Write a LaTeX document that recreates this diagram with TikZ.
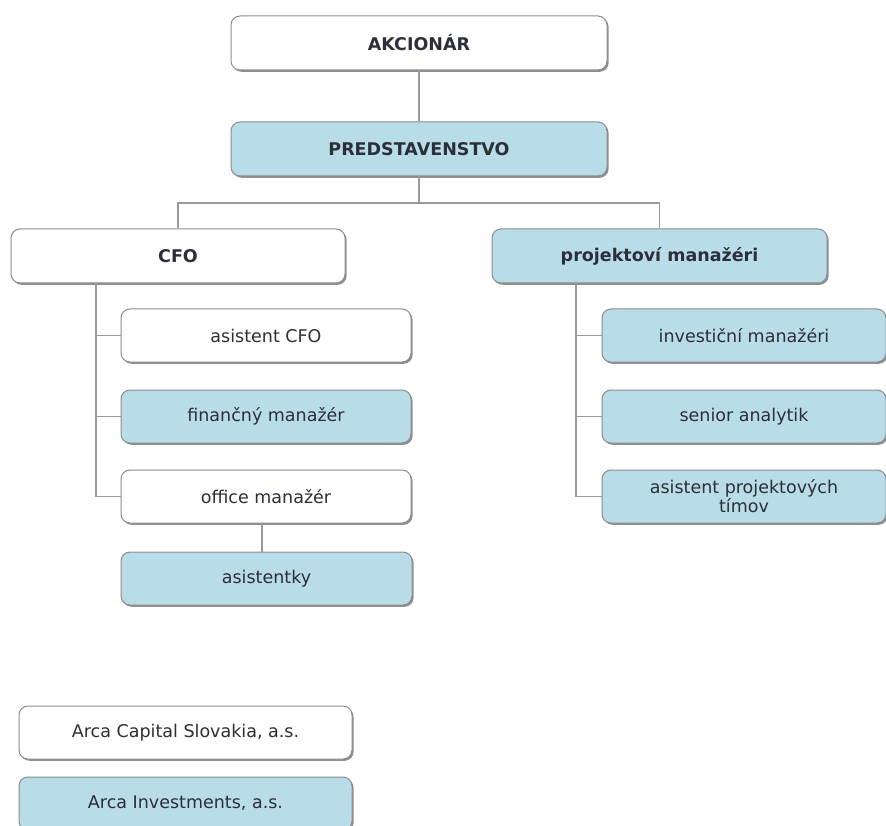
\documentclass[tikz,border=0pt]{standalone}
\usepackage{fontspec}
\setmainfont{DejaVu Sans}
\usetikzlibrary{shadows}
\definecolor{boxblue}{HTML}{B8DCE8}
\definecolor{boxline}{HTML}{8C8C8C}
\definecolor{txt}{HTML}{2B2F38}
\definecolor{conn}{HTML}{9A9A9A}
\tikzset{
  box/.style={draw=boxline, line width=1pt, rounded corners=9pt, fill=white,
    text=txt, font=\fontsize{17.5}{19}\selectfont, align=center, inner sep=0pt,
    drop shadow={shadow xshift=1.6pt, shadow yshift=-1.8pt, fill=black!55, opacity=0.8}},
  blue/.style={fill=boxblue},
  bold/.style={font=\fontsize{17.5}{19}\selectfont\bfseries},
  conn/.style={draw=conn, line width=1.4pt},
}
\begin{document}
\begin{tikzpicture}[x=1pt,y=-1pt]
\useasboundingbox (0,0) rectangle (886,826);
% top
\node[box,bold,minimum width=376pt,minimum height=54pt] (akc) at (419,43) {AKCIONÁR};
\node[box,bold,blue,minimum width=376pt,minimum height=54pt] (pred) at (419,149) {PREDSTAVENSTVO};
\node[box,bold,minimum width=334pt,minimum height=54pt] (cfo) at (178,256) {CFO};
\node[box,bold,blue,minimum width=335pt,minimum height=54pt] (proj) at (659.5,256) {projektoví manažéri};
% CFO branch
\node[box,minimum width=290pt,minimum height=53pt] (acfo) at (266,335.5) {asistent CFO};
\node[box,blue,minimum width=290pt,minimum height=53pt] (fin) at (266,416.5) {finančný manažér};
\node[box,minimum width=290pt,minimum height=53pt] (off) at (266,496.5) {office manažér};
\node[box,blue,minimum width=291pt,minimum height=53pt] (asis) at (266.5,578.5) {asistentky};
% projekt branch
\node[box,blue,minimum width=284pt,minimum height=53pt] (inv) at (744,335.5) {investiční manažéri};
\node[box,blue,minimum width=284pt,minimum height=53pt] (sen) at (744,416.5) {senior analytik};
\node[box,blue,minimum width=284pt,minimum height=53pt] (apt) at (744,496.5) {asistent projektových\\tímov};
% legend
\node[box,minimum width=333pt,minimum height=53pt] (lcs) at (185.5,732.5) {Arca Capital Slovakia, a.s.};
\node[box,blue,minimum width=333pt,minimum height=53pt] (lai) at (185.5,803.5) {Arca Investments, a.s.};
% connectors
\coordinate (bus) at (419,203);
\coordinate (cfoT) at (96,283);
\coordinate (projT) at (576,283);
\draw[conn] (akc.south) -- (pred.north);
\draw[conn] (pred.south) -- (bus);
\draw[conn] (cfo.north) |- (bus) -| (proj.north);
\draw[conn] (cfoT) |- (acfo.west);
\draw[conn] (cfoT) |- (fin.west);
\draw[conn] (cfoT) |- (off.west);
\draw[conn] (off.south -| 262,0) -- (asis.north -| 262,0);
\draw[conn] (projT) |- (inv.west);
\draw[conn] (projT) |- (sen.west);
\draw[conn] (projT) |- (apt.west);
\end{tikzpicture}
\end{document}
